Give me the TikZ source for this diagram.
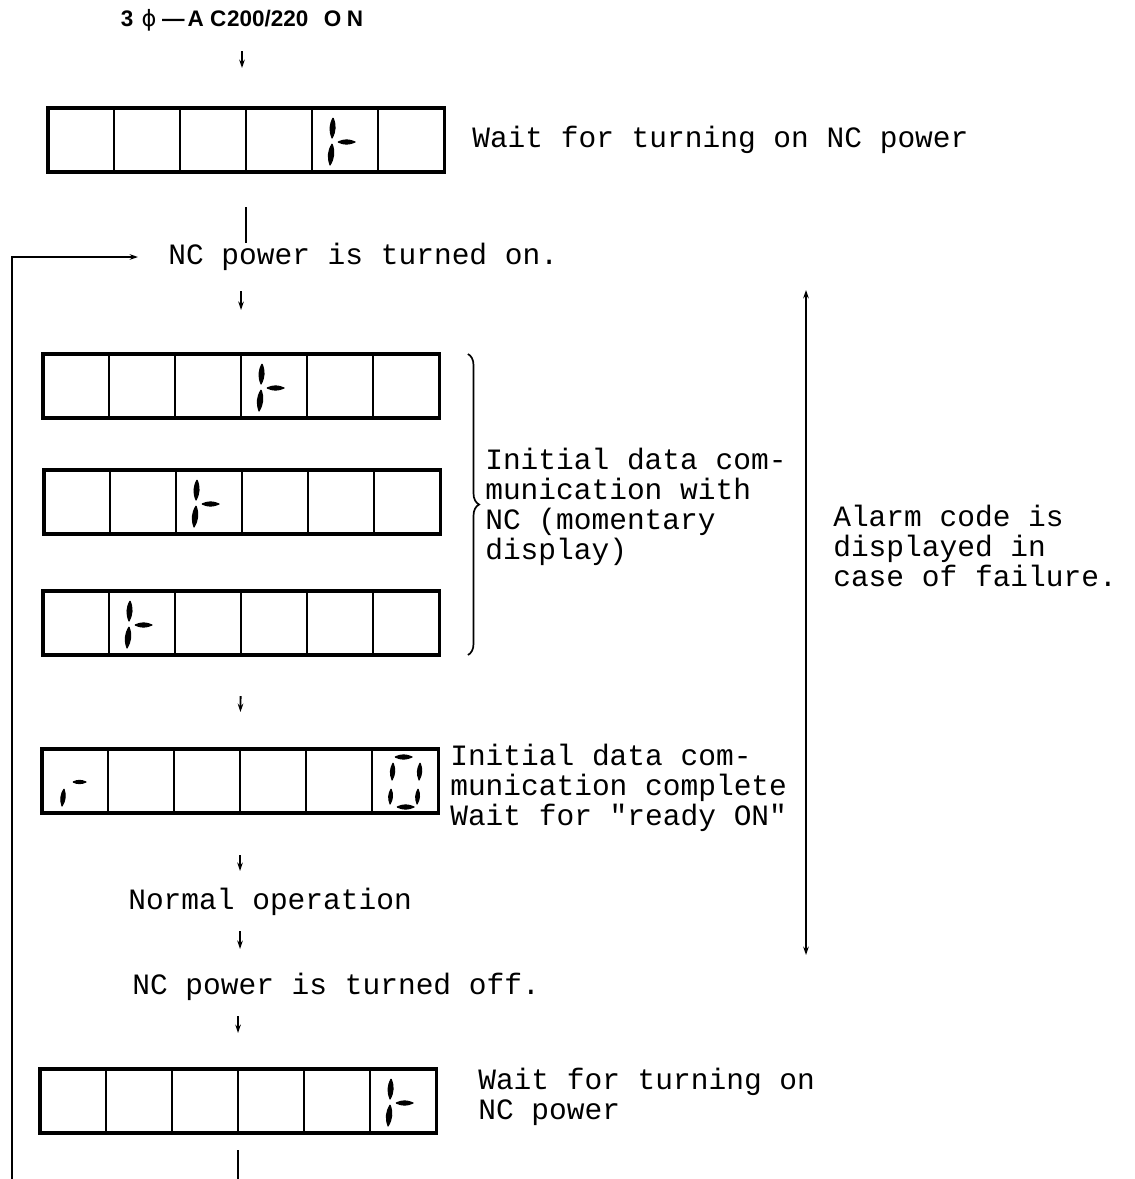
\documentclass[tikz,border=0pt]{standalone}
\usepackage{fontspec}
\setmainfont{Liberation Serif}
\setmonofont{Liberation Mono}
\newfontfamily\titlefont{Liberation Sans}
\newfontfamily\phifont{DejaVu Sans}
\usepackage{tikz}
\usetikzlibrary{arrows.meta, positioning, decorations.pathreplacing}

% one row of six display cells, top left corner at (#2,#3)
\newcommand{\lcdrow}[3]{%
  \node[cell, anchor=north west] (#1c1) at (#2,#3) {};
  \foreach \i [evaluate=\i as \j using int(\i-1)] in {2,...,6}
    \node[cell, right=0pt of #1c\j] (#1c\i) {};
  \draw[frame] (#1c1.north west) rectangle (#1c6.south east);
}
% one tapered segment in cell #1, from #2 to #3 (pixels from the cell corner)
\newcommand{\lcdseg}[3]{%
  \filldraw[line width=0.8pt, line join=round] ([shift={#2}]#1.north west) to[bend left=25] ([shift={#3}]#1.north west)
    to[bend left=25] ([shift={#2}]#1.north west);
}
\newcommand{\segtee}[1]{%
  \lcdseg{#1}{(21,10)}{(20,30)}
  \lcdseg{#1}{(20,36)}{(18,57)}
  \lcdseg{#1}{(26,34)}{(43,34)}
}
\newcommand{\segr}[1]{%
  \lcdseg{#1}{(22,40)}{(20,57)}
  \lcdseg{#1}{(31,33)}{(44,33)}
}
\newcommand{\segzero}[1]{%
  \lcdseg{#1}{(23,8)}{(40,8)}
  \lcdseg{#1}{(21,14)}{(20,31)}
  \lcdseg{#1}{(48,14)}{(47,31)}
  \lcdseg{#1}{(19,40)}{(18,55)}
  \lcdseg{#1}{(46,40)}{(45,55)}
  \lcdseg{#1}{(25,58)}{(42,58)}
}

\begin{document}
\begin{tikzpicture}[
  x=0.025cm, y=-0.025cm,
  cell/.style={draw, line width=1.3pt, minimum width=1.65cm, minimum height=1.6cm, inner sep=0pt, outer sep=0pt},
  frame/.style={line width=2.2pt},
  msg/.style={font=\ttfamily\fontsize{21}{21.2}\selectfont, inner sep=0pt, anchor=west, align=left},
  arrow/.style={-{Stealth[length=6pt, width=4pt]}, line width=1.3pt},
  link/.style={line width=1.3pt},
  dblarrow/.style={{Stealth[length=6pt, width=4pt]}-{Stealth[length=6pt, width=4pt]}, line width=1.3pt},
  bracket/.style={decorate, decoration={brace, amplitude=0.28cm}, line width=1.2pt}
]
\useasboundingbox (0,0) rectangle (1134,1179);

% title
\node[inner sep=0pt, font=\titlefont\bfseries\fontsize{16}{16}\selectfont] (title) at (242,20)
  {3\hspace{6pt}{\phifont\mdseries ϕ}\hspace{4pt}—\hspace{2pt}A\hspace{4.5pt}C\hspace{0.5pt}200/220\hspace{11pt}O\hspace{4pt}N};

% displays
\lcdrow{da}{48}{108}
\lcdrow{db}{43}{354}
\lcdrow{dc}{44}{470}
\lcdrow{dd}{43}{591}
\lcdrow{de}{42}{749}
\lcdrow{df}{40}{1069}
\segtee{dac5}
\segtee{dbc4}
\segtee{dcc3}
\segtee{ddc2}
\segr{dec1}
\segzero{dec6}
\segtee{dfc6}

% texts
\node[msg] (waiton) at (472,140) {Wait for turning on NC power};
\node[msg] (ncon) at (168,257) {NC power is turned on.};
\node[msg] (initcom) at (485,507) {Initial data com-\\munication with\\NC (momentary\\display)};
\node[msg] (initdone) at (450,788) {Initial data com-\\munication complete\\Wait for "ready ON"};
\node[msg] (normal) at (128,902) {Normal operation};
\node[msg] (ncoff) at (132,987) {NC power is turned off.};
\node[msg] (waitagain) at (478,1097) {Wait for turning on\\NC power};
\node[msg] (alarm) at (833,546) {Alarm code is\\displayed in\\case of failure.};

\coordinate (exit) at (236,1179);
\coordinate (loopstart) at (12,1179);
\coordinate (alarmtop) at (806,290);
\coordinate (alarmbot) at (806,955);

% flow
\draw[arrow, shorten <=0.5cm, shorten >=1cm] (title.south) -- (title.south |- dac1.north);
\draw[link, shorten <=0.875cm] (dac3.south east) -- (dac3.south east |- ncon.north);
\draw[arrow, shorten <=0.5cm, shorten >=1.1cm] (ncon.south -| dbc3.north east) -- (dbc3.north east);
\draw[arrow, shorten <=1.025cm, shorten >=0.925cm] (ddc3.south east) -- (dec3.north east);
\draw[arrow, shorten <=1.05cm, shorten >=0.425cm] (dec3.south east) -- (dec3.south east |- normal.north);
\draw[arrow, shorten <=0.375cm, shorten >=0.6cm] (normal.south -| dec3.south east) -- (ncoff.north -| dec3.south east);
\draw[arrow, shorten <=0.375cm, shorten >=0.9cm] (ncoff.south -| dfc3.north east) -- (dfc3.north east);
\draw[link, shorten <=0.425cm] (dfc3.south east) -- (dfc3.south east |- exit);
\draw[arrow, shorten >=0.75cm] (loopstart) |- (ncon.west);
\draw[bracket] ([xshift=0.72cm]dbc6.north east) -- ([xshift=0.72cm]ddc6.south east);
\draw[dblarrow] (alarmtop) -- (alarmbot);
\end{tikzpicture}
\end{document}
